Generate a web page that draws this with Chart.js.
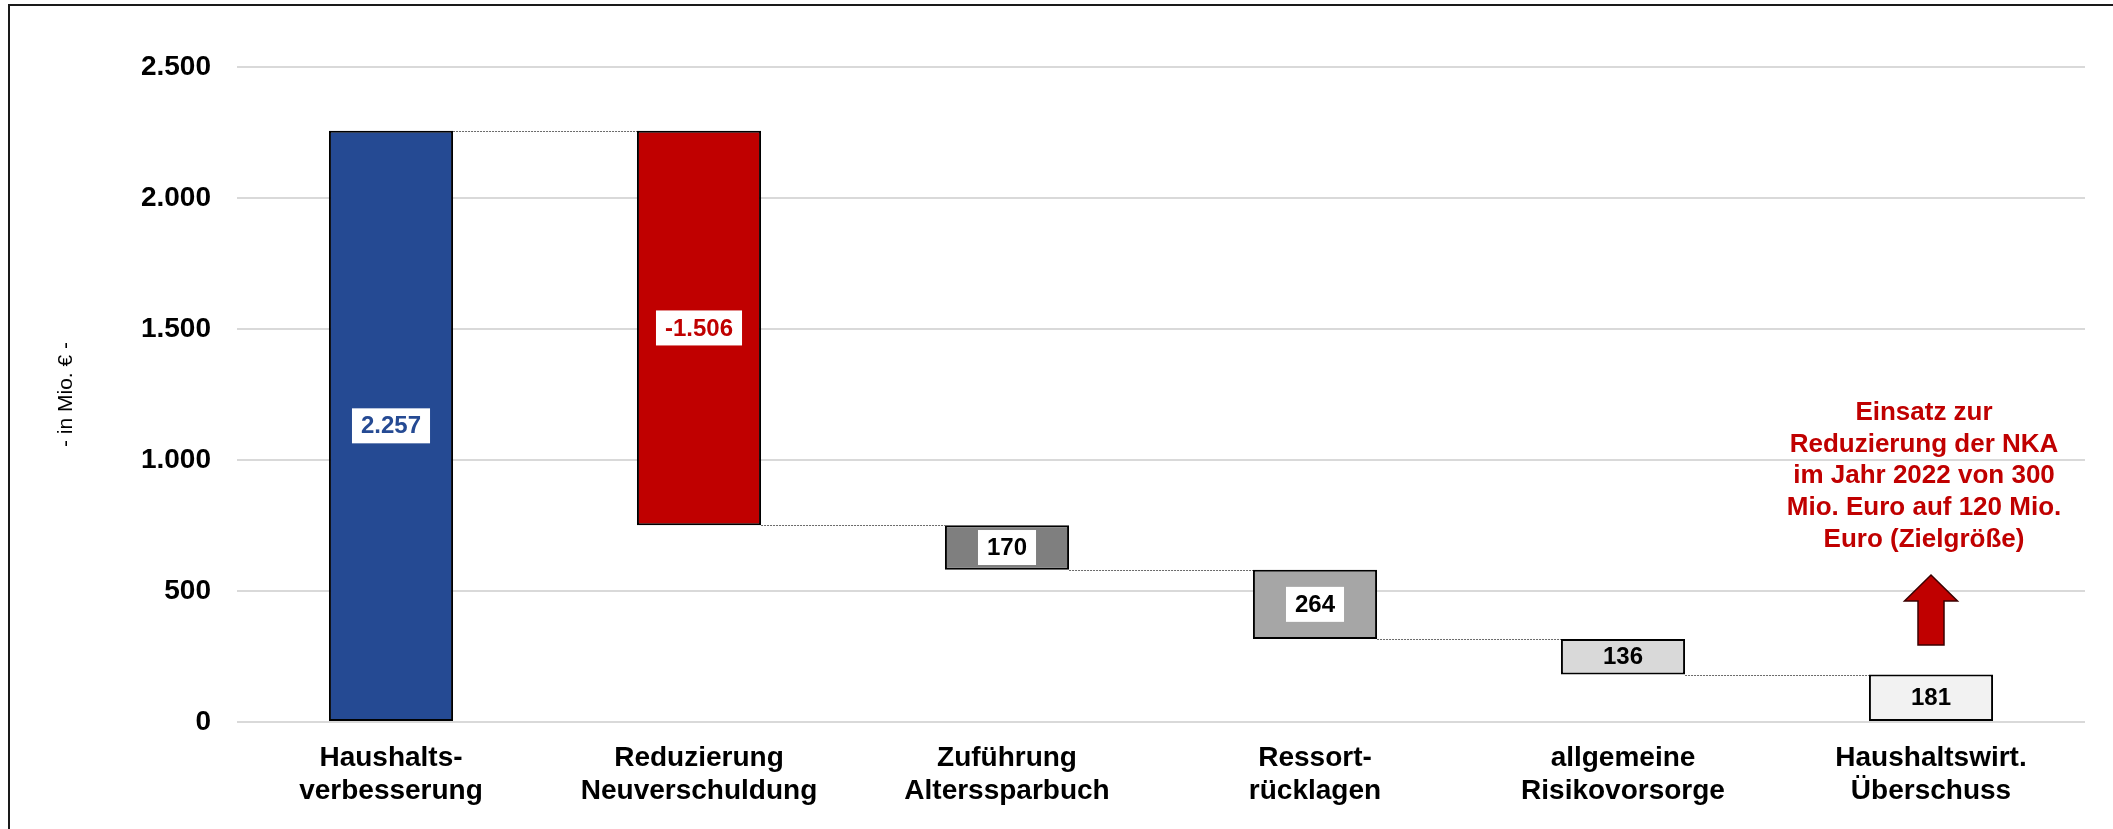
<!DOCTYPE html>
<html>
<head>
<meta charset="utf-8">
<script src="https://cdn.jsdelivr.net/npm/chart.js@4.4.0/dist/chart.umd.min.js"></script>
<style>
  body { margin: 0; background: #fff; overflow: hidden; }
  #wrap { width: 2113px; height: 829px; position: relative; }
</style>
</head>
<body>
<div id="wrap"><canvas id="chart"></canvas></div>
<script>
// categories (two-line labels)
const categories = [
  ['Haushalts-', 'verbesserung'],
  ['Reduzierung', 'Neuverschuldung'],
  ['Zuführung', 'Alterssparbuch'],
  ['Ressort-', 'rücklagen'],
  ['allgemeine', 'Risikovorsorge'],
  ['Haushaltswirt.', 'Überschuss']
];
// change of each step, the last bar is the remaining total
const changes = [2257, -1506, -170, -264, -136];
const total = 181;
const labelValues = [2257, -1506, 170, 264, 136, 181];
const barColors = ['#254A93', '#C00000', '#7F7F7F', '#A6A6A6', '#D9D9D9', '#F2F2F2'];
const labelColors = ['#254A93', '#C00000', '#000000', '#000000', '#000000', '#000000'];
const labelBoxes = [true, true, true, true, false, false];
const yTicks = [0, 500, 1000, 1500, 2000, 2500];
const noteLines = ['Einsatz zur', 'Reduzierung der NKA', 'im Jahr 2022 von 300', 'Mio. Euro auf 120 Mio.', 'Euro (Zielgröße)'];
const noteTopValue = 1180;   // first text line (in Mio. €)
const arrowFrom = 294;       // arrow base
const arrowTo = 561;         // arrow tip

function fmt(v) {
  const s = String(Math.abs(v)).replace(/\B(?=(\d{3})+(?!\d))/g, '.');
  return (v < 0 ? '-' : '') + s;
}

// build floating bars
const ranges = [];
const levels = [];
let running = 0;
changes.forEach(c => {
  const start = running;
  running += c;
  ranges.push([Math.min(start, running), Math.max(start, running)]);
  levels.push(running);
});
ranges.push([0, total]);

Chart.defaults.font.family = "'Liberation Sans', Arial, sans-serif";
Chart.defaults.color = '#000';

const extras = {
  id: 'extras',
  beforeDraw(chart) {
    const ctx = chart.ctx;
    ctx.save();
    ctx.strokeStyle = '#1a1a1a';
    ctx.lineWidth = 2;
    ctx.beginPath();
    ctx.moveTo(9, 829);
    ctx.lineTo(9, 5);
    ctx.lineTo(2113, 5);
    ctx.stroke();
    ctx.restore();
  },
  beforeDatasetsDraw(chart) {
    const {ctx, scales: {y}} = chart;
    const bars = chart.getDatasetMeta(0).data;
    ctx.save();
    ctx.strokeStyle = '#6a6a6a';
    ctx.lineWidth = 1;
    ctx.setLineDash([2, 1]);
    levels.forEach((lv, i) => {
      const a = bars[i], b = bars[i + 1];
      const py = Math.round(y.getPixelForValue(lv)) + 0.5;
      ctx.beginPath();
      ctx.moveTo(a.x + a.width / 2, py);
      ctx.lineTo(b.x - b.width / 2, py);
      ctx.stroke();
    });
    ctx.restore();
  },
  afterDatasetsDraw(chart) {
    const {ctx, scales: {x, y}} = chart;
    const bars = chart.getDatasetMeta(0).data;
    ctx.save();
    ctx.font = "bold 24px 'Liberation Sans', Arial, sans-serif";
    ctx.textAlign = 'center';
    ctx.textBaseline = 'middle';
    bars.forEach((bar, i) => {
      const cy = (bar.y + bar.base) / 2;
      const txt = fmt(labelValues[i]);
      if (labelBoxes[i]) {
        const w = ctx.measureText(txt).width + 18;
        ctx.fillStyle = '#fff';
        ctx.fillRect(bar.x - w / 2, cy - 17.5, w, 35);
      }
      ctx.fillStyle = labelColors[i];
      ctx.fillText(txt, bar.x, cy + 1);
    });

    // note text above the last bar
    const cx = x.getPixelForValue(categories.length - 1);
    ctx.font = "bold 26px 'Liberation Sans', Arial, sans-serif";
    ctx.fillStyle = '#C00000';
    const top = y.getPixelForValue(noteTopValue);
    noteLines.forEach((line, i) => {
      ctx.fillText(line, cx - 7, top + i * 31.7);
    });

    // block arrow
    const yb = y.getPixelForValue(arrowFrom);
    const yt = y.getPixelForValue(arrowTo);
    const head = 26;
    ctx.beginPath();
    ctx.moveTo(cx, yt);
    ctx.lineTo(cx + 26.5, yt + head);
    ctx.lineTo(cx + 13, yt + head);
    ctx.lineTo(cx + 13, yb);
    ctx.lineTo(cx - 13, yb);
    ctx.lineTo(cx - 13, yt + head);
    ctx.lineTo(cx - 26.5, yt + head);
    ctx.closePath();
    ctx.fillStyle = '#C00000';
    ctx.fill();
    ctx.strokeStyle = '#3a0000';
    ctx.lineWidth = 1.5;
    ctx.stroke();
    ctx.restore();
  }
};

new Chart(document.getElementById('chart'), {
  type: 'bar',
  data: {
    labels: categories,
    datasets: [{
      data: ranges,
      backgroundColor: barColors,
      borderColor: '#000',
      borderWidth: 2,
      borderSkipped: false,
      barPercentage: 0.403,
      categoryPercentage: 1
    }]
  },
  options: {
    responsive: true,
    maintainAspectRatio: false,
    animation: false,
    layout: { padding: { left: 0, top: 67, right: 28, bottom: 0 } },
    plugins: { legend: { display: false }, tooltip: { enabled: false } },
    scales: {
      x: {
        grid: { display: false },
        border: { display: false },
        ticks: {
          font: { size: 28, weight: 'bold', lineHeight: 1.18 },
          padding: 12,
          maxRotation: 0,
          autoSkip: false
        },
        afterFit(scale) { scale.height = 107; }
      },
      y: {
        min: 0,
        max: 2500,
        afterBuildTicks(scale) { scale.ticks = yTicks.map(v => ({ value: v })); },
        grid: { color: '#D9D9D9', lineWidth: 2, drawTicks: false },
        border: { display: false },
        ticks: {
          font: { size: 28, weight: 'bold' },
          padding: 26,
          callback: v => fmt(v)
        },
        title: {
          display: true,
          text: '- in Mio. € -',
          font: { size: 21, weight: 'normal' },
          padding: { top: 54, bottom: 0 }
        },
        afterFit(scale) { scale.width = 237; }
      }
    }
  },
  plugins: [extras]
});
</script>
</body>
</html>
